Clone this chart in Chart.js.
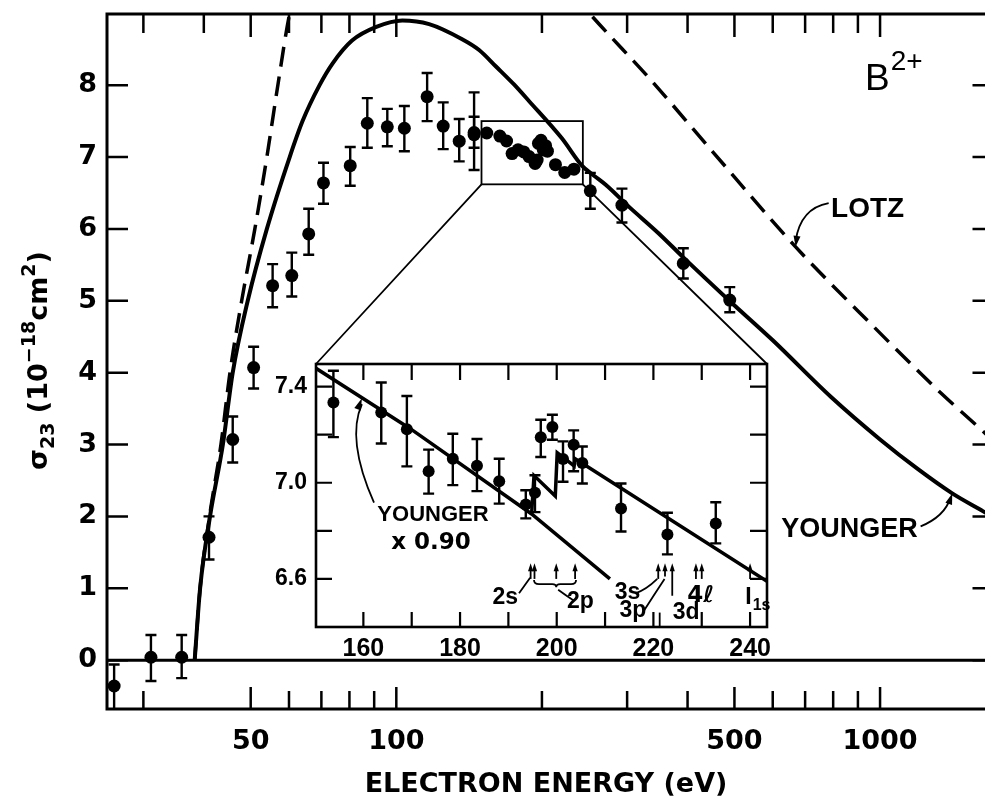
<!DOCTYPE html>
<html>
<head>
<meta charset="utf-8">
<title>B2+ electron-impact ionization cross section</title>
<script src="https://cdn.jsdelivr.net/npm/chart.js@4.4.1/dist/chart.umd.min.js"></script>
<style>
  html, body { margin: 0; padding: 0; background: #fff; overflow: hidden; }
  #wrap { position: relative; width: 985px; height: 796px; overflow: hidden; background: #fff; }
  #wrap canvas { position: absolute; left: 0; top: 0; }
</style>
</head>
<body>
<div id="wrap">
  <canvas id="main" width="1000" height="796" style="width:1000px;height:796px"></canvas>
  <canvas id="inset" width="1000" height="796" style="width:1000px;height:796px"></canvas>
</div>
<script>
// ---- measured cross sections, sigma_23 in 1e-18 cm^2 ----
const measEnergy = [26.1, 31.1, 36.0, 41.0, 45.9, 50.7, 55.5, 60.8, 65.9, 70.7, 80.3, 87.1, 95.8, 103.9, 115.8, 125.0, 134.9, 144.8, 144.8, 251.8, 292.7, 392, 489];
const measSigma  = [-0.36, 0.04, 0.04, 1.71, 3.07, 4.07, 5.21, 5.35, 5.93, 6.64, 6.88, 7.47, 7.42, 7.40, 7.84, 7.43, 7.22, 7.34, 7.31, 6.53, 6.33, 5.52, 5.01];
const measHigh   = [-0.06, 0.35, 0.35, 2.00, 3.39, 4.36, 5.51, 5.67, 6.28, 6.92, 7.14, 7.82, 7.67, 7.71, 8.17, 7.76, 7.53, 7.90, 7.56, 6.78, 6.56, 5.73, 5.19];
const measLow    = [-0.70, -0.29, -0.25, 1.40, 2.75, 3.78, 4.91, 5.06, 5.64, 6.35, 6.60, 7.13, 7.15, 7.08, 7.50, 7.11, 6.94, 7.13, 6.82, 6.28, 6.09, 5.31, 4.84];

// ---- fine energy scan through the 2s/2p excitation-autoionization region ----
const fineEnergy = [153.8, 163.7, 169.0, 173.5, 178.5, 183.5, 188.1, 193.6, 195.5, 196.7, 199.1, 201.3, 203.5, 205.3, 213.3, 222.9, 232.9];
const fineSigma  = [7.334, 7.292, 7.223, 7.048, 7.100, 7.071, 7.006, 6.910, 6.958, 7.189, 7.232, 7.099, 7.158, 7.082, 6.893, 6.785, 6.831];
const fineHigh   = [7.466, 7.417, 7.361, 7.138, 7.204, 7.182, 7.100, 6.969, 7.031, 7.262, 7.283, 7.172, 7.218, 7.151, 6.997, 6.875, 6.919];
const fineLow    = [7.190, 7.163, 7.068, 6.955, 6.990, 6.965, 6.913, 6.852, 6.878, 7.107, 7.179, 7.004, 7.048, 6.997, 6.797, 6.702, 6.748];

// ---- theory: Younger distorted-wave and Lotz formula ----
const youngerEnergy = [38.3, 39.3, 41.2, 43.8, 45.9, 49.3, 54.0, 60.2, 64.0, 69.4, 73.8, 81, 90.9, 102.9, 116.9, 136.8, 148.3, 160.7, 175.1, 188.0, 219.9, 241.9, 256.3, 271.3, 302.4, 348.3, 392.5, 490, 600, 792, 1000, 1196, 1410, 1634, 1750];
const youngerSigma  = [0, 1.0, 2.0, 3.0, 4.0, 5.0, 6.0, 7.0, 7.5, 8.0, 8.3, 8.62, 8.81, 8.90, 8.85, 8.64, 8.49, 8.26, 8.01, 7.78, 7.26, 6.88, 6.74, 6.61, 6.31, 5.94, 5.60, 4.99, 4.45, 3.66, 3.07, 2.66, 2.32, 2.07, 1.95];
const lotzEnergy = [38.3, 39.3, 41.1, 43.4, 45.3, 47.9, 51.0, 54.0, 56.9, 60.2, 66, 75, 90, 110, 140, 180, 220, 253, 333, 450, 669, 1000, 1196, 1334, 1634, 1750];
const lotzSigma  = [0, 1.0, 2.0, 3.0, 4.0, 5.0, 6.0, 7.0, 8.0, 9.0, 10.0, 10.6, 11.0, 11.1, 10.8, 10.1, 9.45, 8.97, 8.10, 7.08, 5.75, 4.55, 4.03, 3.72, 3.18, 2.99];
const baselineEnergy = [25, 1750];
const baselineSigma  = [0, 0];

// Younger x 0.90: direct ionization only, and with the 2s/2p autoionization steps
const directEnergy = [150.2, 169.7, 194.8, 211.0];
const directSigma  = [7.476, 7.225, 6.870, 6.600];
const stepEnergy = [194.8, 195.3, 199.7, 200.1, 203.6, 203.8, 243.5];
const stepSigma  = [6.870, 7.030, 6.945, 7.125, 7.070, 7.100, 6.590];

// ---- axes ----
const xTicksTop    = [30, 40, 50, 60, 70, 80, 90, 100, 200, 300, 400, 500, 600, 700, 800, 900, 1000];
const xTicksBottom = [30, 50, 60, 70, 80, 90, 100, 200, 300, 400, 500, 600, 700, 800, 900, 1000];
const xTickLabels  = [50, 100, 500, 1000];
const yTicks       = [0, 1, 2, 3, 4, 5, 6, 7, 8];
const insetXTicks  = [160, 170, 180, 190, 200, 210, 220, 230, 240];
const insetXLabels = [160, 180, 200, 220, 240];
const insetYTicks  = [6.6, 6.8, 7.0, 7.2, 7.4];
const insetYLabels = [6.6, 7.0, 7.4];

// energy window of the fine scan, shown enlarged in the inset
const windowEnergy = [150, 243];
const windowSigma  = [6.62, 7.5];

// threshold markers (eV) in the inset
const thresholdMarks = [194.6, 195.4, 199.9, 203.8, 221.0, 222.4, 223.9, 228.8, 230.0, 240.0];

const pts = (xs, ys) => xs.map((x, i) => ({ x, y: ys[i] }));

const DIGITS = 'DejaVu Sans';
const LETTERS = 'Liberation Sans';

function arrowHead(ctx, x1, y1, x2, y2, len, half) {
  const a = Math.atan2(y2 - y1, x2 - x1);
  const c = Math.cos(a), s = Math.sin(a);
  ctx.beginPath();
  ctx.moveTo(x2, y2);
  ctx.lineTo(x2 - len * c + half * s, y2 - len * s - half * c);
  ctx.lineTo(x2 - len * c - half * s, y2 - len * s + half * c);
  ctx.closePath();
  ctx.fill();
}

function drawRich(ctx, parts) {
  let cx = 0;
  parts.forEach(p => {
    ctx.font = p.font;
    ctx.fillText(p.t, cx, p.dy || 0);
    cx += ctx.measureText(p.t).width;
  });
}

function errorBars(chart, xs, lows, highs, cap) {
  const { ctx, chartArea: a, scales: { x, y } } = chart;
  ctx.save();
  ctx.beginPath();
  ctx.rect(a.left, a.top, a.right - a.left, a.bottom - a.top);
  ctx.clip();
  ctx.strokeStyle = '#000';
  ctx.lineWidth = 2.4;
  xs.forEach((e, i) => {
    const px = x.getPixelForValue(e);
    const y1 = y.getPixelForValue(lows[i]);
    const y2 = y.getPixelForValue(highs[i]);
    ctx.beginPath();
    ctx.moveTo(px, y1); ctx.lineTo(px, y2);
    ctx.moveTo(px - cap, y1); ctx.lineTo(px + cap, y1);
    ctx.moveTo(px - cap, y2); ctx.lineTo(px + cap, y2);
    ctx.stroke();
  });
  ctx.restore();
}

// fixed axis boxes, no label overhang padding
const fixWidth = w => s => { s.width = w; s.paddingTop = 0; s.paddingBottom = 0; };
const fixHeight = h => s => { s.height = h; s.paddingLeft = 0; s.paddingRight = 0; };

// ---------------- main panel ----------------
const mainPanel = {
  id: 'mainPanel',
  beforeDraw(chart) {
    const c = chart.ctx;
    c.save(); c.fillStyle = '#fff'; c.fillRect(0, 0, chart.width, chart.height); c.restore();
  },
  afterDatasetsDraw(chart) {
    errorBars(chart, measEnergy, measLow, measHigh, 5.5);
  },
  afterDraw(chart) {
    const { ctx, chartArea: a, scales: { x, y } } = chart;
    const P = (e, s) => [x.getPixelForValue(e), y.getPixelForValue(s)];
    ctx.save();
    ctx.strokeStyle = '#000'; ctx.fillStyle = '#000';

    // frame
    ctx.lineWidth = 3;
    ctx.strokeRect(a.left, a.top, a.right - a.left, a.bottom - a.top);

    // inward tick marks
    ctx.lineWidth = 2.5;
    ctx.beginPath();
    xTicksBottom.forEach(v => {
      const p = x.getPixelForValue(v), len = xTickLabels.includes(v) ? 22 : 18;
      ctx.moveTo(p, a.bottom); ctx.lineTo(p, a.bottom - len);
    });
    xTicksTop.forEach(v => {
      const p = x.getPixelForValue(v), len = xTickLabels.includes(v) ? 23 : 19;
      ctx.moveTo(p, a.top); ctx.lineTo(p, a.top + len);
    });
    yTicks.forEach(v => {
      const p = y.getPixelForValue(v);
      ctx.moveTo(a.left, p); ctx.lineTo(a.left + 21, p);
      ctx.moveTo(a.right, p); ctx.lineTo(a.right - 21, p);
    });
    ctx.stroke();

    // box around the fine-scan window
    ctx.lineWidth = 1.8;
    const [bx1, by1] = P(windowEnergy[0], windowSigma[1]);
    const [bx2, by2] = P(windowEnergy[1], windowSigma[0]);
    ctx.strokeRect(bx1, by1, bx2 - bx1, by2 - by1);

    // axis titles
    ctx.textAlign = 'center'; ctx.textBaseline = 'alphabetic';
    ctx.font = `bold 27px "${DIGITS}"`;
    ctx.fillText('ELECTRON ENERGY (eV)', 546, 792);

    ctx.save();
    ctx.translate(47, 470);
    ctx.rotate(-Math.PI / 2);
    ctx.textAlign = 'left';
    const big = `bold 27px "${DIGITS}"`, small = `bold 19px "${DIGITS}"`;
    drawRich(ctx, [
      { t: 'σ', font: big },
      { t: '23', font: small, dy: 7 },
      { t: ' (10', font: big },
      { t: '−18', font: small, dy: -12 },
      { t: 'cm', font: big },
      { t: '2', font: small, dy: -12 },
      { t: ')', font: big }
    ]);
    ctx.restore();

    // ion label
    ctx.textAlign = 'left';
    let [tx, ty] = P(931, 7.93);
    ctx.font = `37px "${LETTERS}"`;
    ctx.fillText('B', tx, ty);
    const bw = ctx.measureText('B').width;
    ctx.font = `28px "${LETTERS}"`;
    ctx.fillText('2+', tx + bw + 1, ty - 20);

    // LOTZ label and pointer
    ctx.font = `bold 28px "${LETTERS}"`;
    [tx, ty] = P(792, 6.17);
    ctx.fillText('LOTZ', tx, ty);
    ctx.lineWidth = 1.8;
    let [sx, sy] = P(783, 6.36), [cx, cy] = P(685, 6.29), [ex, ey] = P(669, 5.75);
    ctx.beginPath(); ctx.moveTo(sx, sy); ctx.quadraticCurveTo(cx, cy, ex, ey - 6); ctx.stroke();
    arrowHead(ctx, cx, cy, ex, ey, 11, 3.5);

    // YOUNGER label and pointer
    ctx.textAlign = 'right';
    ctx.font = `bold 27px "${LETTERS}"`;
    [tx, ty] = P(1196, 1.71);
    ctx.fillText('YOUNGER', tx, ty);
    [sx, sy] = P(1213, 1.86); [cx, cy] = P(1359, 2.0); [ex, ey] = P(1410, 2.32);
    ctx.beginPath(); ctx.moveTo(sx, sy); ctx.quadraticCurveTo(cx, cy, ex - 2, ey + 5); ctx.stroke();
    arrowHead(ctx, cx, cy, ex, ey, 11, 3.5);

    ctx.restore();
  }
};

const lineStyle = { showLine: true, pointRadius: 0, borderColor: '#000', backgroundColor: '#000', fill: false };

const mainChart = new Chart(document.getElementById('main'), {
  type: 'scatter',
  data: {
    datasets: [
      { ...lineStyle, label: 'Younger', data: pts(youngerEnergy, youngerSigma), borderWidth: 4, cubicInterpolationMode: 'monotone' },
      { ...lineStyle, label: 'Lotz', data: pts(lotzEnergy, lotzSigma), borderWidth: 3.5, borderDash: [20, 10], cubicInterpolationMode: 'monotone' },
      { ...lineStyle, label: 'zero', data: pts(baselineEnergy, baselineSigma), borderWidth: 3 },
      { label: 'measured', data: pts(measEnergy, measSigma), pointRadius: 6.5, pointBackgroundColor: '#000', pointBorderWidth: 0, showLine: false },
      { label: 'fine scan', data: pts(fineEnergy, fineSigma), pointRadius: 6.5, pointBackgroundColor: '#000', pointBorderWidth: 0, showLine: false }
    ]
  },
  options: {
    responsive: false,
    animation: false,
    events: [],
    layout: { padding: { left: 0, right: 4, top: 14, bottom: 0 } },
    plugins: { legend: { display: false }, tooltip: { enabled: false } },
    scales: {
      x: {
        type: 'logarithmic', min: 25.23, max: 1716,
        afterBuildTicks: s => { s.ticks = xTicksTop.map(v => ({ value: v })); },
        ticks: {
          autoSkip: false, maxRotation: 0, minRotation: 0, padding: 17, color: '#000',
          font: { family: DIGITS, weight: 'bold', size: 27 },
          callback: v => xTickLabels.includes(v) ? String(v) : ''
        },
        grid: { display: false, drawTicks: false },
        border: { display: false },
        afterFit: fixHeight(87)
      },
      y: {
        min: -0.68, max: 8.99,
        afterBuildTicks: s => { s.ticks = yTicks.map(v => ({ value: v })); },
        ticks: {
          padding: 10, color: '#000',
          font: { family: DIGITS, weight: 'bold', size: 27 },
          callback: v => String(v)
        },
        grid: { display: false, drawTicks: false },
        border: { display: false },
        afterFit: fixWidth(107)
      }
    }
  },
  plugins: [mainPanel]
});

// ---------------- inset panel ----------------
const insetPanel = {
  id: 'insetPanel',
  beforeDatasetsDraw(chart) {
    const { ctx, chartArea: a } = chart;
    ctx.save(); ctx.fillStyle = '#fff'; ctx.fillRect(a.left, a.top, a.right - a.left, a.bottom - a.top); ctx.restore();
  },
  afterDatasetsDraw(chart) {
    errorBars(chart, fineEnergy, fineLow, fineHigh, 5.5);
  },
  afterDraw(chart) {
    const { ctx, chartArea: a, scales: { x, y } } = chart;
    const P = (e, s) => [x.getPixelForValue(e), y.getPixelForValue(s)];
    const mx = mainChart.scales.x, my = mainChart.scales.y;
    ctx.save();
    ctx.strokeStyle = '#000'; ctx.fillStyle = '#000';

    // lines joining the window box to the inset
    ctx.lineWidth = 1.8;
    ctx.beginPath();
    ctx.moveTo(mx.getPixelForValue(windowEnergy[0]), my.getPixelForValue(windowSigma[0]));
    ctx.lineTo(a.left, a.top);
    ctx.moveTo(mx.getPixelForValue(windowEnergy[1]), my.getPixelForValue(windowSigma[0]));
    ctx.lineTo(a.right, a.top);
    ctx.stroke();

    // frame and inward ticks
    ctx.lineWidth = 2.6;
    ctx.strokeRect(a.left, a.top, a.right - a.left, a.bottom - a.top);
    ctx.lineWidth = 2.2;
    ctx.beginPath();
    insetXTicks.forEach(v => {
      const p = x.getPixelForValue(v);
      ctx.moveTo(p, a.bottom); ctx.lineTo(p, a.bottom - 15);
      ctx.moveTo(p, a.top); ctx.lineTo(p, a.top + 16);
    });
    insetYTicks.forEach(v => {
      const p = y.getPixelForValue(v);
      ctx.moveTo(a.left, p); ctx.lineTo(a.left + 16, p);
      ctx.moveTo(a.right, p); ctx.lineTo(a.right - 17, p);
    });
    ctx.stroke();

    // threshold arrows
    ctx.lineWidth = 1.8;
    const tails = [6.60, 6.60, 6.60, 6.60, 6.60, 6.61, 6.53, 6.60, 6.60, 6.60];
    thresholdMarks.forEach((e, i) => {
      const [px, ph] = P(e, 6.665);
      const pt = y.getPixelForValue(tails[i]);
      ctx.beginPath(); ctx.moveTo(px, pt); ctx.lineTo(px, ph + 6); ctx.stroke();
      arrowHead(ctx, px, pt, px, ph, 8, 2.6);
    });

    // 2p brace
    let [b1, bt] = P(195.3, 6.595);
    let [b2] = P(204.0, 6.595);
    const [bc, bm] = P(199.9, 6.565);
    const by = y.getPixelForValue(6.578);
    ctx.beginPath();
    ctx.moveTo(b1, bt); ctx.quadraticCurveTo(b1, by, b1 + 5, by);
    ctx.lineTo(bc - 4, by); ctx.quadraticCurveTo(bc, by, bc, bm);
    ctx.quadraticCurveTo(bc, by, bc + 4, by);
    ctx.lineTo(b2 - 5, by); ctx.quadraticCurveTo(b2, by, b2, bt);
    ctx.stroke();
    // leader lines to the labels
    const leader = (from, ctrl, to) => {
      const f = P(...from), c = P(...ctrl), t = P(...to);
      ctx.beginPath(); ctx.moveTo(f[0], f[1]); ctx.quadraticCurveTo(c[0], c[1], t[0], t[1]); ctx.stroke();
    };
    leader([200.3, 6.555], [202.0, 6.53], [203.5, 6.51]);
    leader([192.2, 6.54], [193.6, 6.58], [194.5, 6.605]);
    leader([216.3, 6.54], [218.5, 6.555], [220.8, 6.60]);
    leader([217.8, 6.46], [220.0, 6.53], [222.3, 6.60]);
    ctx.beginPath();
    ctx.moveTo(x.getPixelForValue(221.3), y.getPixelForValue(6.46));
    ctx.lineTo(x.getPixelForValue(221.3), y.getPixelForValue(6.40));
    ctx.stroke();

    // threshold labels
    ctx.textAlign = 'left'; ctx.textBaseline = 'alphabetic';
    const lab = `bold 23px "${LETTERS}"`;
    ctx.font = lab;
    const put = (t, e, s, align) => { ctx.textAlign = align || 'left'; const [px, py] = P(e, s); ctx.fillText(t, px, py); };
    put('2s', 192.0, 6.495, 'right');
    put('2p', 202.1, 6.480);
    put('3s', 212.0, 6.516);
    put('3p', 213.0, 6.441);
    put('3d', 224.0, 6.433);
    ctx.font = `bold 23px "${DIGITS}"`;
    put('4ℓ', 227.0, 6.503);
    ctx.font = lab;
    let [ix, iy] = P(239.0, 6.497);
    ctx.textAlign = 'left';
    ctx.fillText('I', ix, iy);
    const iw = ctx.measureText('I').width;
    ctx.font = `bold 16px "${LETTERS}"`;
    ctx.fillText('1s', ix + iw + 1, iy + 6);

    // YOUNGER x 0.90 label and pointer
    ctx.textAlign = 'center';
    ctx.font = `bold 22px "${LETTERS}"`;
    put('YOUNGER', 174.4, 6.839, 'center');
    ctx.font = `bold 23px "${DIGITS}"`;
    put('x 0.90', 174.0, 6.723, 'center');
    const s0 = P(162.2, 6.917), c0 = P(156.4, 7.18), e0 = P(159.7, 7.352);
    ctx.lineWidth = 1.8;
    ctx.beginPath(); ctx.moveTo(s0[0], s0[1]); ctx.quadraticCurveTo(c0[0], c0[1], e0[0], e0[1] + 6); ctx.stroke();
    arrowHead(ctx, c0[0], c0[1], e0[0], e0[1], 12, 3.5);

    ctx.restore();
  }
};

new Chart(document.getElementById('inset'), {
  type: 'scatter',
  data: {
    datasets: [
      { ...lineStyle, label: 'Younger x 0.90 (direct)', data: pts(directEnergy, directSigma), borderWidth: 3.5 },
      { ...lineStyle, label: 'Younger x 0.90 (with autoionization)', data: pts(stepEnergy, stepSigma), borderWidth: 3.5 },
      { label: 'fine scan', data: pts(fineEnergy, fineSigma), pointRadius: 6, pointBackgroundColor: '#000', pointBorderWidth: 0, showLine: false }
    ]
  },
  options: {
    responsive: false,
    animation: false,
    events: [],
    layout: { padding: { left: 256, right: 233, top: 364, bottom: 129 } },
    plugins: { legend: { display: false }, tooltip: { enabled: false } },
    scales: {
      x: {
        type: 'linear', min: 150.2, max: 243.5,
        afterBuildTicks: s => { s.ticks = insetXTicks.map(v => ({ value: v })); },
        ticks: {
          autoSkip: false, maxRotation: 0, minRotation: 0, padding: 7, color: '#000',
          font: { family: LETTERS, weight: 'bold', size: 25 },
          callback: v => insetXLabels.includes(v) ? String(v) : ''
        },
        grid: { display: false, drawTicks: false },
        border: { display: false },
        afterFit: fixHeight(40)
      },
      y: {
        min: 6.40, max: 7.494,
        afterBuildTicks: s => { s.ticks = insetYTicks.map(v => ({ value: v })); },
        ticks: {
          padding: 9, color: '#000',
          font: { family: LETTERS, weight: 'bold', size: 23 },
          callback: v => insetYLabels.includes(v) ? v.toFixed(1) : ''
        },
        grid: { display: false, drawTicks: false },
        border: { display: false },
        afterFit: fixWidth(60)
      }
    }
  },
  plugins: [insetPanel]
});
</script>
</body>
</html>
